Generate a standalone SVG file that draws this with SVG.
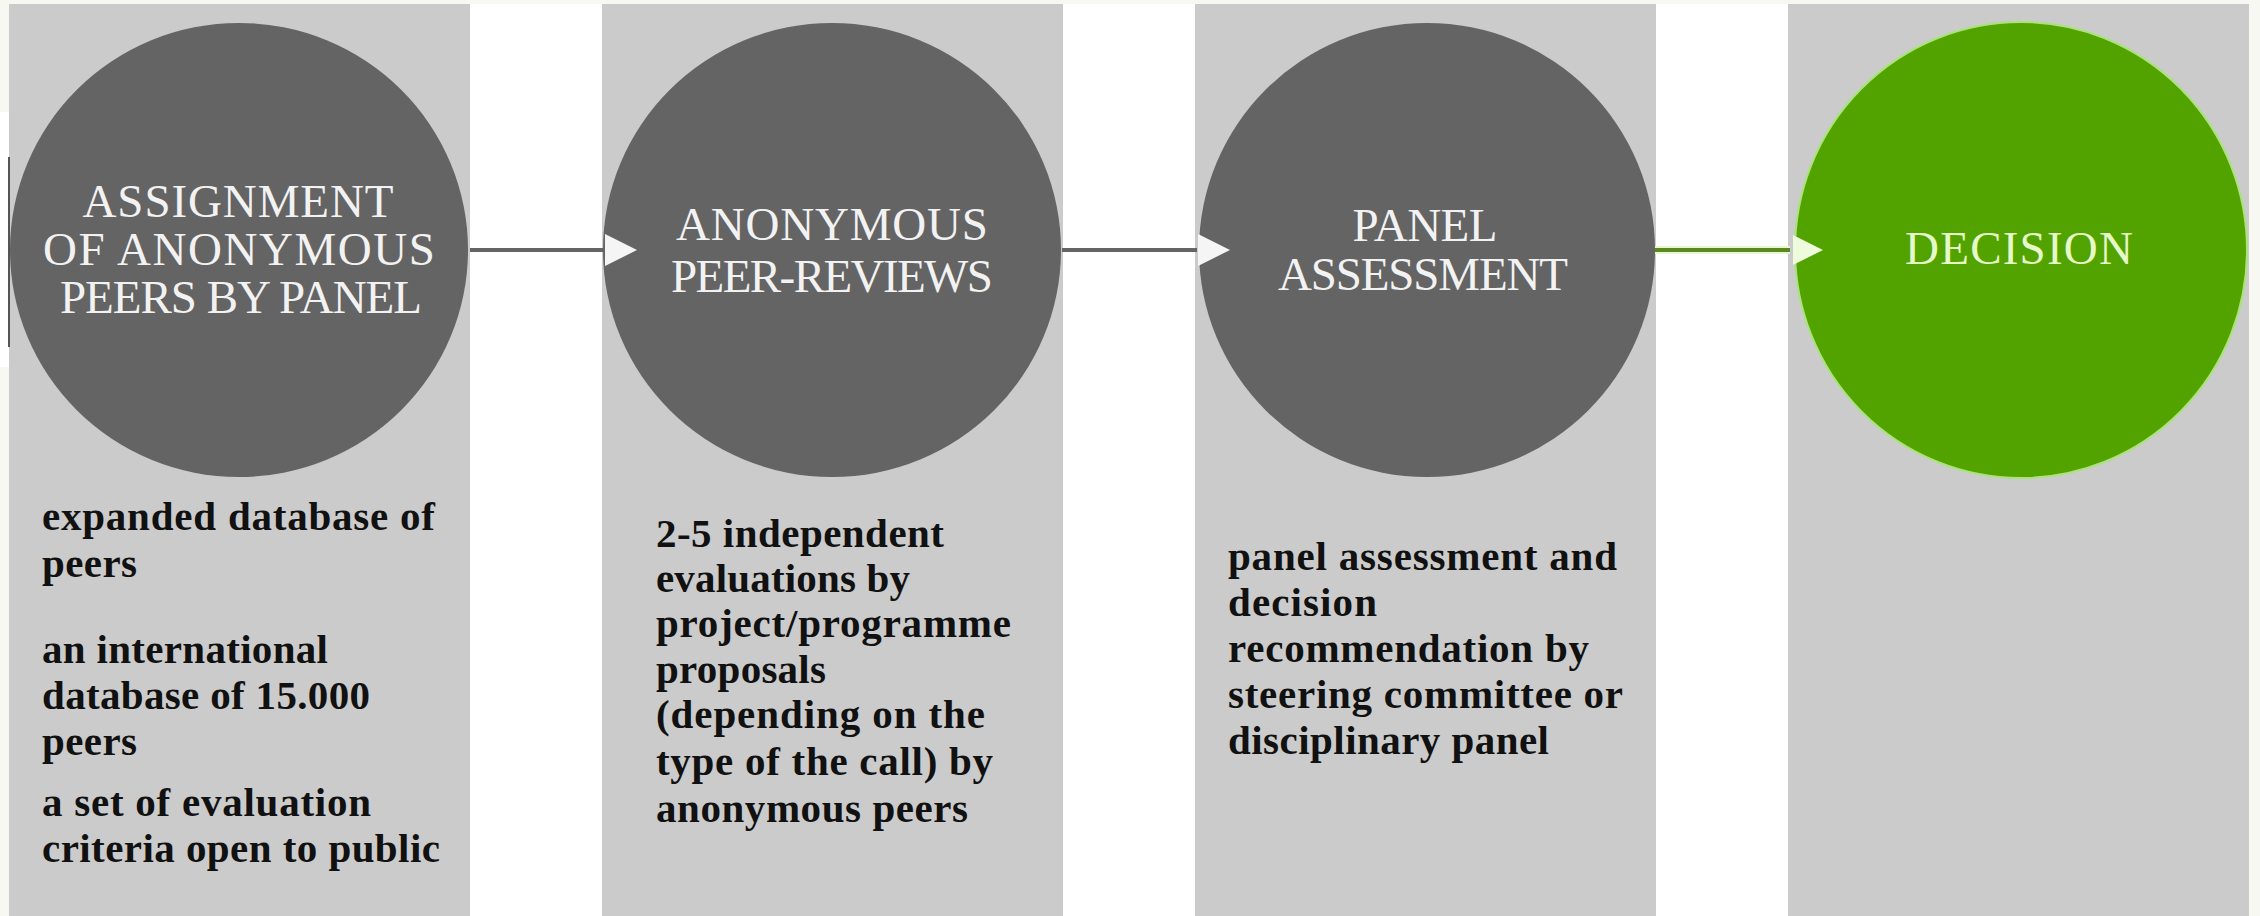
<svg xmlns="http://www.w3.org/2000/svg" width="2260" height="916" viewBox="0 0 2260 916">
  <style>
    .col { fill: #cbcbcb; }
    .node { fill: #646464; }
    .nodeg { fill: #52a300; stroke: #a9e37a; stroke-width: 2; }
    .head { font-family: "Liberation Serif", "Times New Roman", serif; font-size: 47px; fill: #f2f2f2; text-anchor: middle; }
    .headg { fill: #e6f9c8; }
    .body { font-family: "Liberation Serif", "Times New Roman", serif; font-size: 41px; font-weight: bold; fill: #111111; }
    .conn { stroke: #656565; stroke-width: 4; fill: none; }
    .conng { stroke: #5b8a22; stroke-width: 4; fill: none; }
    .tip { fill: #f5f5f5; }
    .tipg { fill: #eefbdc; }
  </style>
  <rect x="0" y="0" width="2260" height="916" fill="#ffffff"/>
  <rect x="0" y="0" width="2260" height="4" fill="#f8f8f2"/>
  <rect x="0" y="0" width="9" height="112" fill="#f8f8f2"/>
  <rect x="0" y="367" width="9" height="549" fill="#f8f8f2"/>
  <rect x="2249" y="0" width="11" height="916" fill="#f8f8f2"/>

  <!-- columns -->
  <rect class="col" x="9" y="4" width="461" height="912"/>
  <rect class="col" x="602" y="4" width="461" height="912"/>
  <rect class="col" x="1195" y="4" width="461" height="912"/>
  <rect class="col" x="1788" y="4" width="461" height="912"/>
  <rect x="8" y="157" width="2" height="190" fill="#555555"/>

  <!-- node 1 -->
  <g id="node-assignment">
    <ellipse class="node" cx="239" cy="250" rx="229" ry="227"/>
    <text class="head" x="238" y="217" textLength="311">ASSIGNMENT</text>
    <text class="head" x="239" y="265" textLength="392">OF ANONYMOUS</text>
    <text class="head" x="241" y="313" textLength="362">PEERS BY PANEL</text>
    <text class="body" x="42" y="530" textLength="393">expanded database of</text>
    <text class="body" x="42" y="577" textLength="95">peers</text>
    <text class="body" x="42" y="663" textLength="286">an international</text>
    <text class="body" x="42" y="709" textLength="328">database of 15.000</text>
    <text class="body" x="42" y="755" textLength="95">peers</text>
    <text class="body" x="42" y="816" textLength="329">a set of evaluation</text>
    <text class="body" x="42" y="862" textLength="398">criteria open to public</text>
  </g>

  <!-- node 2 -->
  <g id="node-peer-reviews">
    <ellipse class="node" cx="832" cy="250" rx="229" ry="227"/>
    <text class="head" x="832" y="240" textLength="312">ANONYMOUS</text>
    <text class="head" x="832" y="292" textLength="322">PEER-REVIEWS</text>
    <text class="body" x="656" y="547" textLength="288">2-5 independent</text>
    <text class="body" x="656" y="592" textLength="254">evaluations by</text>
    <text class="body" x="656" y="637" textLength="355">project/programme</text>
    <text class="body" x="656" y="683" textLength="170">proposals</text>
    <text class="body" x="656" y="728" textLength="329">(depending on the</text>
    <text class="body" x="656" y="775" textLength="337">type of the call) by</text>
    <text class="body" x="656" y="822" textLength="312">anonymous peers</text>
  </g>

  <!-- node 3 -->
  <g id="node-panel">
    <ellipse class="node" cx="1427" cy="250" rx="228" ry="227"/>
    <text class="head" x="1425" y="241" textLength="145">PANEL</text>
    <text class="head" x="1423" y="290" textLength="290">ASSESSMENT</text>
    <text class="body" x="1228" y="570" textLength="389">panel assessment and</text>
    <text class="body" x="1228" y="616" textLength="149">decision</text>
    <text class="body" x="1228" y="662" textLength="361">recommendation by</text>
    <text class="body" x="1228" y="708" textLength="395">steering committee or</text>
    <text class="body" x="1228" y="754" textLength="321">disciplinary panel</text>
  </g>

  <!-- node 4 -->
  <g id="node-decision">
    <ellipse class="nodeg" cx="2021" cy="250" rx="226" ry="228"/>
    <text class="head headg" x="2019" y="264" textLength="228">DECISION</text>
  </g>

  <!-- connectors -->
  <g id="connectors">
    <line class="conn" x1="470" y1="250" x2="604" y2="250"/>
    <polygon class="tip" points="605,234 637,250 605,266"/>
    <line class="conn" x1="1062" y1="250" x2="1197" y2="250"/>
    <polygon class="tip" points="1198,234 1230,250 1198,266"/>
    <line x1="1655" y1="250" x2="1790" y2="250" stroke="#eaf6cf" stroke-width="8"/>
    <line class="conng" x1="1655" y1="250" x2="1790" y2="250"/>
    <polygon class="tipg" points="1793,235 1823,250 1793,265"/>
  </g>
</svg>
